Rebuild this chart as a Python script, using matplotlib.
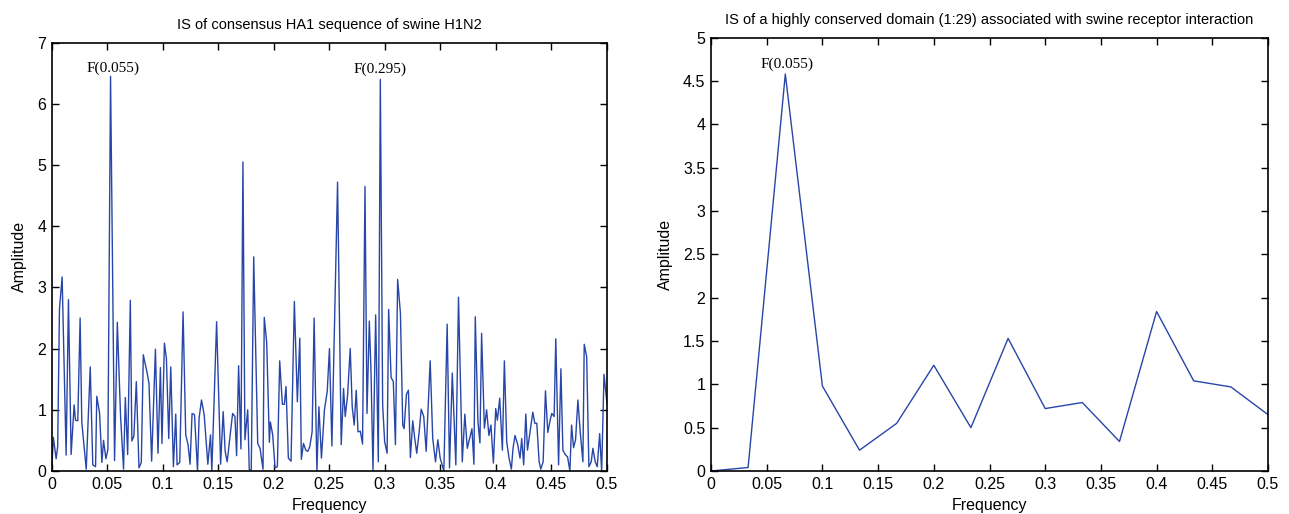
import numpy as np
import matplotlib
matplotlib.use("Agg")
import matplotlib.pyplot as plt
from matplotlib.ticker import FuncFormatter

# Left panel: IS of consensus HA1 sequence
freq_ha1 = [
    0.0, 0.0015, 0.0040, 0.0054, 0.0070, 0.0094, 0.0130, 0.0151, 0.0175, 0.0202,
    0.0214, 0.0235, 0.0256, 0.0271, 0.0311, 0.0347, 0.0370, 0.0395, 0.0406, 0.0431,
    0.0452, 0.0467, 0.0488, 0.0506, 0.0530, 0.0566, 0.0591, 0.0620, 0.0647, 0.0663,
    0.0684, 0.0708, 0.0722, 0.0740, 0.0762, 0.0786, 0.0807, 0.0825, 0.0837, 0.0858,
    0.0876, 0.0900, 0.0934, 0.0957, 0.0979, 0.0993, 0.1015, 0.1033, 0.1054, 0.1072,
    0.1096, 0.1117, 0.1129, 0.1153, 0.1183, 0.1207, 0.1228, 0.1246, 0.1264, 0.1286,
    0.1313, 0.1327, 0.1349, 0.1373, 0.1406, 0.1430, 0.1442, 0.1485, 0.1521, 0.1544,
    0.1562, 0.1580, 0.1605, 0.1629, 0.1650, 0.1665, 0.1683, 0.1704, 0.1722, 0.1740,
    0.1765, 0.1779, 0.1797, 0.1819, 0.1855, 0.1876, 0.1903, 0.1914, 0.1936, 0.1960,
    0.1969, 0.1990, 0.2011, 0.2032, 0.2053, 0.2077, 0.2095, 0.2110, 0.2131, 0.2155,
    0.2185, 0.2212, 0.2234, 0.2248, 0.2267, 0.2288, 0.2306, 0.2324, 0.2345, 0.2363,
    0.2388, 0.2406, 0.2429, 0.2456, 0.2481, 0.2501, 0.2523, 0.2574, 0.2607, 0.2628,
    0.2643, 0.2664, 0.2688, 0.2706, 0.2724, 0.2742, 0.2758, 0.2779, 0.2799, 0.2821,
    0.2839, 0.2860, 0.2875, 0.2893, 0.2917, 0.2941, 0.2959, 0.2980, 0.2998, 0.3020,
    0.3034, 0.3056, 0.3076, 0.3095, 0.3115, 0.3140, 0.3161, 0.3173, 0.3194, 0.3212,
    0.3230, 0.3251, 0.3269, 0.3287, 0.3309, 0.3327, 0.3350, 0.3372, 0.3408, 0.3431,
    0.3456, 0.3477, 0.3498, 0.3516, 0.3531, 0.3561, 0.3582, 0.3607, 0.3639, 0.3663,
    0.3697, 0.3720, 0.3742, 0.3763, 0.3784, 0.3802, 0.3814, 0.3838, 0.3856, 0.3871,
    0.3896, 0.3916, 0.3937, 0.3955, 0.3977, 0.3998, 0.4013, 0.4034, 0.4058, 0.4076,
    0.4097, 0.4118, 0.4139, 0.4154, 0.4172, 0.4196, 0.4217, 0.4232, 0.4250, 0.4269,
    0.4284, 0.4307, 0.4332, 0.4350, 0.4368, 0.4389, 0.4404, 0.4425, 0.4446, 0.4467,
    0.4488, 0.4503, 0.4524, 0.4539, 0.4564, 0.4585, 0.4603, 0.4623, 0.4645, 0.4666,
    0.4681, 0.4699, 0.4717, 0.4738, 0.4759, 0.4783, 0.4795, 0.4817, 0.4837, 0.4858,
    0.4873, 0.4894, 0.4912, 0.4934, 0.4952, 0.4973, 0.5,
]
amp_ha1 = [
    0.0, 0.55, 0.2, 0.4, 2.65, 3.17, 0.26, 2.8, 0.27, 1.08,
    0.83, 0.82, 2.5, 0.8, 0.03, 1.7, 0.1, 0.07, 1.22, 0.95,
    0.14, 0.5, 0.2, 0.35, 6.45, 0.17, 2.43, 0.9, 0.03, 1.2,
    0.27, 2.79, 0.49, 0.57, 1.46, 0.05, 0.14, 1.9, 1.79, 1.62,
    1.43, 0.16, 1.99, 0.29, 1.69, 0.45, 2.09, 1.84, 0.53, 1.7,
    0.07, 0.93, 0.1, 0.14, 2.6, 0.59, 0.43, 0.11, 0.94, 0.92,
    0.0, 0.86, 1.16, 0.92, 0.11, 0.59, 0.0, 2.44, 0.11, 0.97,
    0.32, 0.15, 0.56, 0.94, 0.89, 0.25, 1.72, 0.36, 5.05, 0.51,
    1.0, 0.02, 0.02, 3.5, 0.45, 0.37, 0.03, 2.51, 2.1, 0.47,
    0.8, 0.59, 0.05, 0.07, 1.8, 1.09, 1.09, 1.38, 0.21, 0.16,
    2.77, 1.13, 2.17, 0.19, 0.45, 0.34, 0.32, 0.4, 0.64, 2.5,
    0.0, 1.05, 0.21, 1.0, 1.3, 2.0, 0.41, 4.72, 0.43, 1.35,
    0.89, 1.23, 2.0, 1.05, 0.75, 1.32, 0.64, 0.65, 0.44, 4.65,
    0.94, 2.45, 1.63, 0.02, 2.55, 0.15, 6.4, 1.08, 0.48, 0.29,
    2.64, 1.53, 1.46, 0.43, 3.13, 2.58, 0.75, 0.69, 1.25, 1.32,
    0.22, 0.82, 0.53, 0.29, 0.64, 1.01, 0.89, 0.32, 1.8, 0.53,
    0.15, 0.51, 0.21, 0.1, 0.0, 2.4, 0.05, 1.6, 0.1, 2.84,
    0.15, 0.93, 0.37, 0.53, 0.69, 0.11, 2.52, 0.81, 0.46, 2.25,
    0.7, 1.0, 0.58, 0.75, 0.13, 1.02, 0.83, 1.19, 0.34, 1.8,
    0.48, 0.21, 0.03, 0.37, 0.58, 0.43, 0.21, 0.53, 0.1, 0.93,
    0.34, 0.64, 0.96, 0.78, 0.78, 0.15, 0.03, 0.15, 1.31, 0.63,
    0.83, 0.94, 0.89, 2.16, 0.1, 1.67, 0.34, 0.27, 0.23, 0.0,
    0.75, 0.38, 0.51, 1.16, 0.64, 0.15, 2.07, 1.87, 0.07, 0.15,
    0.37, 0.15, 0.07, 0.61, 0.0, 1.58, 1.1,
]

# Right panel: conserved domain (1:29)
freq_dom = [0.0, 0.0333, 0.0667, 0.1, 0.1333, 0.1667, 0.2, 0.2333,
            0.2667, 0.3, 0.3333, 0.3667, 0.4, 0.4333, 0.4667, 0.5]
amp_dom = [0.0, 0.04, 4.58, 0.98, 0.24, 0.55, 1.22, 0.5,
           1.53, 0.72, 0.79, 0.34, 1.84, 1.04, 0.97, 0.65]

x_ticks = [0, 0.05, 0.1, 0.15, 0.2, 0.25, 0.3, 0.35, 0.4, 0.45, 0.5]

plt.rcParams['font.family'] = ['Liberation Sans', 'DejaVu Sans']
line_col = '#2846a8'
fmt = FuncFormatter(lambda v, p: '%g' % round(v, 4))


def style_axes(ax):
    ax.tick_params(direction='in', top=True, right=True, length=5,
                   width=1, labelsize=11.5, pad=4)
    for s in ax.spines.values():
        s.set_linewidth(1.2)
    ax.xaxis.set_major_formatter(fmt)
    ax.yaxis.set_major_formatter(fmt)
    ax.set_xlabel('Frequency', fontsize=11.5, labelpad=5)
    ax.set_ylabel('Amplitude', fontsize=11.5, labelpad=7)


fig = plt.figure(figsize=(12.89, 5.14), dpi=100)

ax1 = fig.add_axes([0.0401, 0.0837, 0.4308, 0.8333])
ax1.plot(freq_ha1, amp_ha1, color=line_col, lw=1.0)
ax1.set_xlim(0, 0.5)
ax1.set_ylim(0, 7)
ax1.set_xticks(x_ticks)
ax1.set_yticks(range(0, 8))
style_axes(ax1)
ax1.set_title('IS of consensus HA1 sequence of swine H1N2', fontsize=10.5, pad=10)
ax1.text(0.055, 6.47, 'F(0.055)', ha='center', va='bottom',
         family='Liberation Serif', fontsize=11)
ax1.text(0.296, 6.46, 'F(0.295)', ha='center', va='bottom',
         family='Liberation Serif', fontsize=11)

ax2 = fig.add_axes([0.5516, 0.0837, 0.4321, 0.8430])
ax2.plot(freq_dom, amp_dom, color=line_col, lw=1.0)
ax2.set_xlim(0, 0.5)
ax2.set_ylim(0, 5)
ax2.set_xticks(x_ticks)
ax2.set_yticks(np.arange(0, 5.01, 0.5))
style_axes(ax2)
ax2.set_title('IS of a highly conserved domain (1:29) associated with swine receptor interaction',
              fontsize=10.5, pad=10)
ax2.text(0.068, 4.62, 'F(0.055)', ha='center', va='bottom',
         family='Liberation Serif', fontsize=11)

fig.savefig('out.png', dpi=100)
